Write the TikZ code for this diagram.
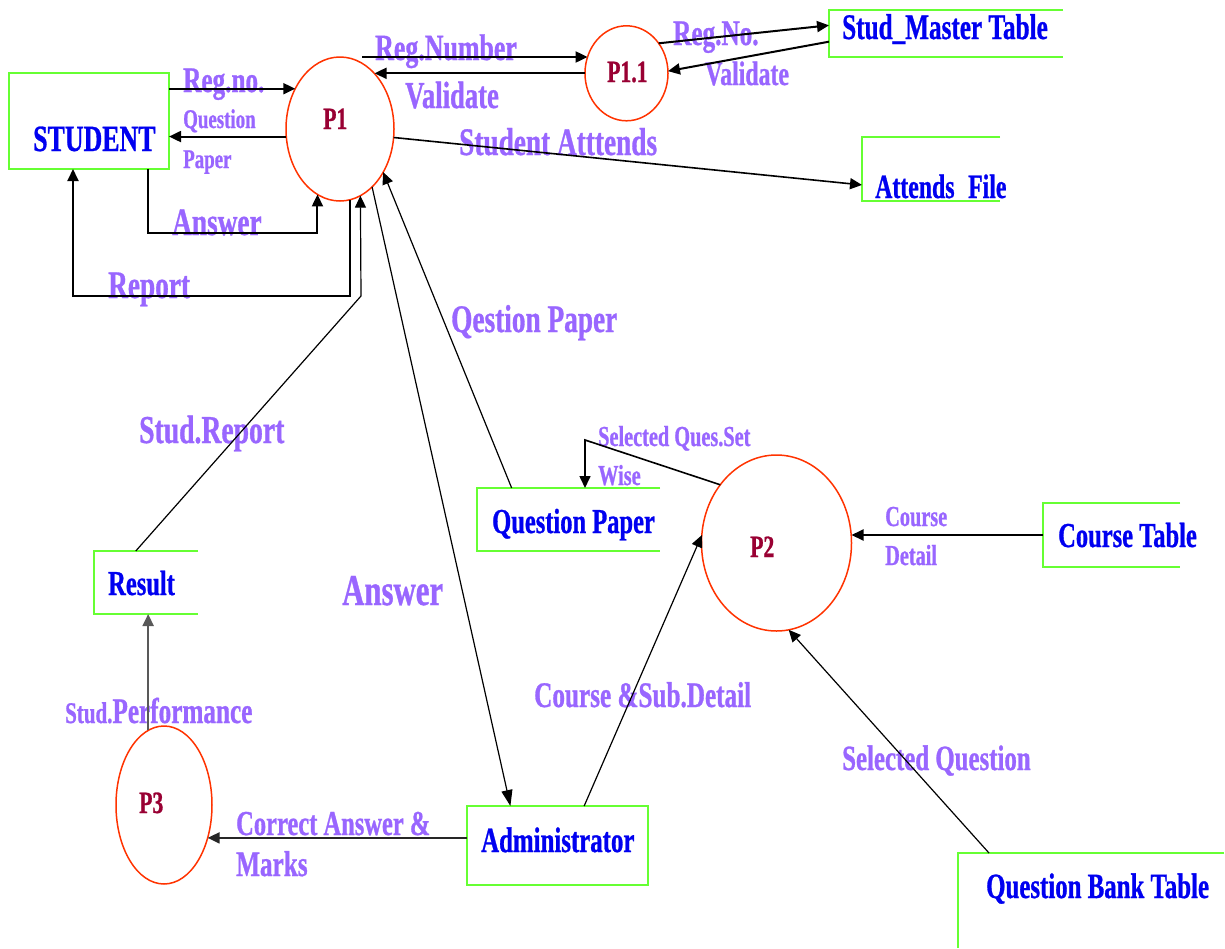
\documentclass[tikz,border=0pt]{standalone}
\usepackage{fontspec}
\setmainfont{Liberation Serif}[FakeStretch=0.7, BoldFeatures={FakeBold=0.8}]
\usetikzlibrary{arrows.meta,shapes.geometric}
\definecolor{lblpurple}{HTML}{9966FF}
\definecolor{nodeblue}{HTML}{0000F0}
\definecolor{procred}{HTML}{990033}
\definecolor{ellred}{HTML}{FF3300}
\definecolor{boxgreen}{HTML}{66FF33}
\newcommand\myfs[1]{\fontsize{#1pt}{#1pt}\selectfont}
\begin{document}
\begin{tikzpicture}[x=1pt,y=-1pt,
  proc/.style={ellipse, draw=ellred, line width=1.5pt, inner sep=0pt, outer sep=0pt},
  entity/.style={rectangle, draw=boxgreen, line width=2pt, inner sep=0pt, outer sep=0pt},
  store/.style={rectangle, draw=none, inner sep=0pt, outer sep=0pt},
  storeline/.style={draw=boxgreen, line width=2pt},
  lbl/.style={text=lblpurple, inner sep=0pt, anchor=base west, font=\bfseries\myfs{#1}},
  ntxt/.style={text=nodeblue, inner sep=0pt, anchor=base west, font=\bfseries\myfs{#1}},
  ptxt/.style={text=procred, inner sep=0pt, anchor=base west, font=\bfseries\myfs{31}},
  arrowtip/.style={-{Triangle[length=12pt,width=11pt]}},
  thickarrow/.style={arrowtip, draw=black, line width=2pt},
  medarrow/.style={arrowtip, draw=black, line width=1.6pt},
  thinarrow/.style={arrowtip, draw=black, line width=1.2pt},
  grayarrow/.style={arrowtip, draw=black!#1, line width=2pt},
]
\fill[white] (0,0) rectangle (1225,948);
\useasboundingbox (0,0) rectangle (1225,948);

% ---- shapes ----
\node[entity, minimum width=160pt, minimum height=96pt] (student) at (89,121) {};
\node[proc, minimum width=108pt, minimum height=144pt] (P1) at (340,129) {};
\node[proc, minimum width=83pt, minimum height=95pt] (P11) at (626.5,73.3) {};
\node[store, minimum width=234pt, minimum height=47pt] (sm) at (946,33.5) {};
\node[store, minimum width=138pt, minimum height=64pt] (af) at (931,169) {};
\node[store, minimum width=183pt, minimum height=63pt] (qp) at (568.5,519.5) {};
\node[proc, minimum width=150pt, minimum height=176pt] (P2) at (776.5,543) {};
\node[store, minimum width=137pt, minimum height=64pt] (ct) at (1111.5,535) {};
\node[store, minimum width=104pt, minimum height=63pt] (res) at (146,582.5) {};
\node[proc, minimum width=96pt, minimum height=158pt] (P3) at (164,805) {};
\node[entity, minimum width=181pt, minimum height=79pt] (adm) at (557.5,845.5) {};
\node[store, minimum width=266pt, minimum height=95pt] (qbt) at (1091,900.5) {};

\foreach \s in {sm,af,qp,ct,res}
  \draw[storeline] (\s.north east) -- (\s.north west) -- (\s.south west) -- (\s.south east);
\draw[storeline] (qbt.north east) -- (qbt.north west) -- (qbt.south west);

% ---- shape texts ----
\node[ntxt=37] (studentT) at (33,151) {STUDENT};
\node[ptxt] (P1T) at (323,129) {P1};
\node[ptxt] (P11T) at (607,82) {P1.1};
\node[ntxt=36] (smT) at (842,39) {Stud\_Master Table};
\node[ntxt=34] (afT) at (875,198) {Attends\hspace{0.4em}File};
\node[ntxt=35] (qpT) at (492,533) {Question Paper};
\node[ptxt] (P2T) at (750,557) {P2};
\node[ntxt=35] (ctT) at (1058,547) {Course Table};
\node[ntxt=35] (resT) at (108,595) {Result};
\node[ptxt] (P3T) at (139,813) {P3};
\node[ntxt=35.5] (admT) at (481,852) {Administrator};
\node[ntxt=35.5] (qbtT) at (986,898) {Question Bank Table};

% ---- flow labels ----
\node[lbl=36] (l1) at (183,92) {Reg.no.};
\node[lbl=27] (l2) at (183,128) {Question};
\node[lbl=27] (l3) at (183,168) {Paper};
\node[lbl=39] (l4) at (172,235) {Answer};
\node[lbl=39] (l5) at (108,298) {Report};
\node[lbl=37] (l6) at (375,60) {Reg.Number};
\node[lbl=38] (l7) at (405,108) {Validate};
\node[lbl=36] (l8) at (673,45) {Reg.No.};
\node[lbl=34] (l9) at (705,85) {Validate};
\node[lbl=39] (l10) at (459,155) {Student Atttends};
\node[lbl=39] (l11) at (451,332) {Qestion Paper};
\node[lbl=39.5] (l12) at (139,443) {Stud.Report};
\node[lbl=44] (l13) at (342,605) {Answer};
\node[lbl=29] (l14) at (598,446) {Selected Ques.Set};
\node[lbl=29] (l15) at (598,485) {Wise};
\node[lbl=29] (l16) at (885,526) {Course};
\node[lbl=29] (l17) at (885,565) {Detail};
\node[lbl=36] (l18) at (534,707) {Course \&Sub.Detail};
\node[lbl=30] (l19) at (65,723) {Stud.{\myfs{36}Performance}};
\node[lbl=35] (l20) at (236,835) {Correct Answer \&};
\node[lbl=36] (l21) at (236,876) {Marks};
\node[lbl=35.5] (l22) at (842,770) {Selected Question};

% ---- connectors ----
\coordinate (ansC) at (148,233);
\coordinate (repC) at (73,296);
\coordinate (srC) at (361,296);
\coordinate (sqC) at (585,440);

\draw[thickarrow] (student.east |- P1.138) -- (P1.138);
\draw[thickarrow] (P1.188.5) -- (student.east |- P1.188.5);
\draw[thickarrow] (student.south -| ansC) -- (ansC) -| (P1.251.5);
\draw[thickarrow] (P1.278) |- (repC) -- (student.south -| repC);
\draw[thinarrow] (res.108.4) -- (srC) -- (P1.287.6);
\draw[thinarrow, -{Triangle[length=16pt,width=11pt]}] (P1.299.7) -- (adm.140.3);
\draw[thinarrow] (qp.151.3) -- (P1.315.7);
\draw[medarrow] (P1.351.4) -- (af.193.8);
\draw[thickarrow] ([xshift=22pt]P1.north) -- (P11.157.7 |- P1.north);
\draw[thickarrow] (P11.west) -- (P11.west -| P1.58.8);
\draw[thickarrow] (P11.43) -- (sm.176.8);
\draw[thickarrow] (sm.184.2) -- (P11.3);
\draw[medarrow] (P2.134) -- (sqC) -- (qp.north -| sqC);
\draw[thickarrow] (ct.west) -- (ct.west -| P2.east);
\draw[thinarrow] (adm.56.1) -- (P2.174.7);
\draw[thinarrow] ([xshift=31pt]qbt.north west) -- (P2.278);
\draw[grayarrow=85] (adm.west |- P3.323) -- (P3.323);
\draw[grayarrow=65] (P3.102) -- (P3.102 |- res.south);
\end{tikzpicture}
\end{document}
